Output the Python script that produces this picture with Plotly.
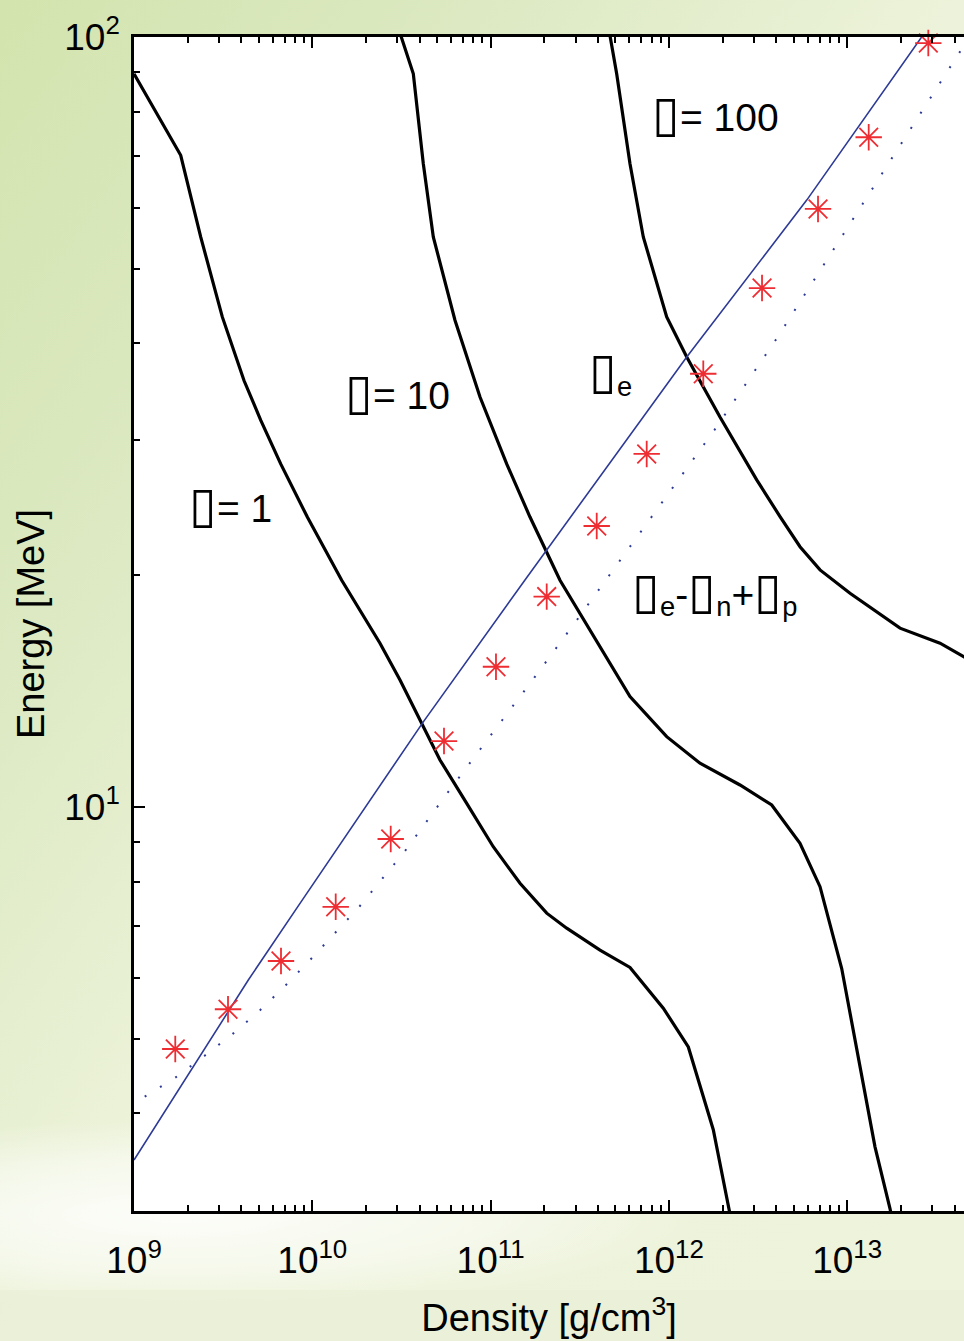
import base64
import plotly.graph_objects as go

# ---------------- data ----------------
gamma1_density = [1.00e9, 1.828e9, 2.366e9, 3.128e9, 4.14e9, 5.135e9, 6.65e9, 9.38e9,
                  1.462e10, 2.397e10, 3.104e10, 4.108e10, 5.202e10, 7.345e10, 1.035e11,
                  1.462e11, 2.064e11, 2.672e11, 4.108e11, 6.05e11, 9.30e11, 1.285e12,
                  1.774e12, 2.26e12]
gamma1_energy = [89.6, 70.2, 55.0, 43.3, 35.8, 31.8, 27.9, 23.8,
                 19.7, 16.32, 14.62, 12.84, 11.51, 10.11, 8.88,
                 7.96, 7.28, 6.96, 6.52, 6.19, 5.48, 4.88,
                 3.81, 2.87]

gamma10_density = [3.064e10, 3.686e10, 4.194e10, 4.771e10, 6.314e10, 8.722e10, 1.231e11,
                   1.663e11, 2.45e11, 3.172e11, 4.479e11, 6.05e11, 9.72e11, 1.494e12,
                   2.505e12, 3.773e12, 5.436e12, 7.04e12, 9.315e12, 1.18e13, 1.432e13,
                   1.738e13, 1.81e13]
gamma10_energy = [102.1, 89.6, 68.45, 55.0, 42.87, 34.07, 27.9,
                  23.8, 19.7, 17.85, 15.67, 13.91, 12.34, 11.40,
                  10.68, 10.06, 8.97, 7.88, 6.17, 4.60, 3.62,
                  3.01, 2.87]

gamma100_density = [4.614e11, 5.095e11, 6.05e11, 7.185e11, 9.72e11, 1.259e12, 1.934e12,
                    3.108e12, 4.2e12, 5.436e12, 7.04e12, 1.037e13, 1.978e13, 3.316e13,
                    4.52e13, 5.21e13]
gamma100_energy = [102.1, 89.6, 68.45, 55.0, 43.3, 38.4, 32.1,
                   26.6, 23.83, 21.78, 20.32, 18.95, 17.07, 16.32,
                   15.67, 15.38]

mue_density = [1.0e9, 4.377e9, 8.532e9, 4.194e10, 1.559e11, 1.259e12, 5.93e12, 2.618e13, 2.913e13]
mue_energy = [3.479, 5.962, 7.497, 12.90, 19.72, 38.4, 61.4, 100.1, 103.6]

mudiff_density = [1.148e9, 1.704e9, 2.479e9, 3.578e9, 5.089e9, 7.095e9, 9.795e9, 1.834e10,
                  3.311e10, 5.747e10, 1.001e11, 1.758e11, 3.052e11, 6.05e11, 1.041e12,
                  1.797e12, 3.937e12, 1.372e13, 4.236e13, 4.883e13]
mudiff_energy = [4.206, 4.451, 4.749, 5.074, 5.445, 5.869, 6.342, 7.421,
                 8.767, 10.44, 12.39, 14.72, 17.50, 21.78, 25.94,
                 30.85, 40.29, 63.43, 95.4, 100.3]

star_density = [1.704e9, 3.367e9, 6.675e9, 1.353e10, 2.753e10, 5.478e10, 1.072e11, 2.064e11,
                3.937e11, 7.507e11, 1.559e12, 3.329e12, 6.86e12, 1.32e13, 2.85e13]
star_energy = [4.85, 5.462, 6.31, 7.42, 9.087, 12.18, 15.21, 18.76,
               23.17, 28.74, 36.53, 47.2, 59.8, 74.1, 98.2]

x_tickvals = [1e9, 1e10, 1e11, 1e12, 1e13]
x_ticktext = ["10<sup>9</sup>", "10<sup>10</sup>", "10<sup>11</sup>", "10<sup>12</sup>", "10<sup>13</sup>"]
y_tickvals = [10, 100]
y_ticktext = ["10<sup>1</sup>", "10<sup>2</sup>"]

x_minor = [m * 10 ** e for e in range(9, 14) for m in range(2, 10)]
y_minor = [m * 10 ** e for e in range(0, 2) for m in range(2, 10) if m * 10 ** e > 3.1]

# ---------------- layout geometry ----------------
W, H = 964, 1341
ML, MR, MT, MB = 134, 0, 37, 130
PW, PH = W - ML - MR, H - MT - MB
X_RANGE = [9, 9 + PW / 178.3]
Y_RANGE = [2 - PH / 770.0, 2]

FONT = "Liberation Sans, Arial, Helvetica, sans-serif"

def px_x(px):
    return (px - ML) / PW

def px_y(py):
    return (H - MB - py) / PH

fig = go.Figure()

for d, e in [(gamma1_density, gamma1_energy), (gamma10_density, gamma10_energy),
             (gamma100_density, gamma100_energy)]:
    fig.add_trace(go.Scatter(x=d, y=e, mode="lines",
                             line=dict(color="black", width=3.2), showlegend=False))

fig.add_trace(go.Scatter(x=mue_density, y=mue_energy, mode="lines",
                         line=dict(color="#2d3a96", width=1.6), showlegend=False))
fig.add_trace(go.Scatter(x=mudiff_density, y=mudiff_energy, mode="lines",
                         line=dict(color="#2d3a96", width=2, dash="2px,16px"),
                         showlegend=False))
fig.add_trace(go.Scatter(x=star_density, y=star_energy, mode="markers",
                         marker=dict(symbol="asterisk-open", size=22, color="#ee2d33",
                                     line=dict(color="#ee2d33", width=1.8)),
                         cliponaxis=False, showlegend=False))

# ---------------- background (slide gradient) ----------------
svg = f"""<svg xmlns='http://www.w3.org/2000/svg' width='{W}' height='{H}' viewBox='0 0 {W} {H}' preserveAspectRatio='none'>
<defs>
<linearGradient id='g' x1='0' y1='0' x2='1' y2='1'>
<stop offset='0' stop-color='#d3e4ae'/>
<stop offset='0.25' stop-color='#dce9c2'/>
<stop offset='0.5' stop-color='#edf3da'/>
<stop offset='1' stop-color='#eef3dc'/>
</linearGradient>
<radialGradient id='w' cx='0.5' cy='0.5' r='0.5'>
<stop offset='0' stop-color='#ffffff' stop-opacity='0.85'/>
<stop offset='0.6' stop-color='#ffffff' stop-opacity='0.45'/>
<stop offset='1' stop-color='#ffffff' stop-opacity='0'/>
</radialGradient>
</defs>
<rect x='0' y='0' width='{W}' height='{H}' fill='url(#g)'/>
<ellipse cx='180' cy='1215' rx='520' ry='95' fill='url(#w)'/>
<rect x='0' y='1290' width='{W}' height='51' fill='#eaf0d7' opacity='0.7'/>
</svg>"""
src = "data:image/svg+xml;base64," + base64.b64encode(svg.encode()).decode()

fig.add_layout_image(dict(source=src, xref="paper", yref="paper",
                          x=-ML / PW, y=1 + MT / PH, sizex=W / PW, sizey=H / PH,
                          xanchor="left", yanchor="top", sizing="stretch", layer="below"))
# white plotting area on top of the slide background
fig.add_shape(type="rect", xref="paper", yref="paper", x0=0, x1=1, y0=0, y1=1,
              fillcolor="white", line=dict(width=0), layer="below")

# ---------------- annotations ----------------
ann_font = dict(family=FONT, size=39, color="black")
BOX = "<span style='font-size:50px'>▯</span>"
labels = [
    (BOX + "= 100", 650, 114),
    (BOX + "= 10", 343, 392),
    (BOX + "= 1", 187, 505),
    (BOX + "<sub>e</sub>", 587, 372),
    (BOX + "<sub>e</sub>-" + BOX + "<sub>n</sub>+" + BOX + "<sub>p</sub>", 630, 592),
]
for text, x, y in labels:
    fig.add_annotation(text=text, xref="paper", yref="paper", x=px_x(x), y=px_y(y),
                       xanchor="left", yanchor="middle", showarrow=False, font=ann_font)

axis_common = dict(
    type="log",
    showgrid=False, zeroline=False,
    showline=True, linecolor="black", linewidth=2.5,
    ticks="inside", ticklen=11, tickwidth=1.5, tickcolor="black",
    tickfont=dict(family=FONT, size=37, color="black"),
)

fig.update_xaxes(
    **axis_common, range=X_RANGE, mirror="ticks",
    tickmode="array", tickvals=x_tickvals, ticktext=x_ticktext,
    ticklabelstandoff=15,
    minor=dict(tickmode="array", tickvals=x_minor, ticks="inside", ticklen=6,
               tickwidth=1.5, tickcolor="black", showgrid=False),
    title=dict(text="Density [g/cm<sup>3</sup>]", font=dict(family=FONT, size=38, color="black"),
               standoff=25),
)
fig.update_yaxes(
    **axis_common, range=Y_RANGE, mirror=False,
    tickmode="array", tickvals=y_tickvals, ticktext=y_ticktext,
    ticklabelstandoff=4,
    minor=dict(tickmode="array", tickvals=y_minor, ticks="inside", ticklen=6,
               tickwidth=1.5, tickcolor="black", showgrid=False),
    title=dict(text="Energy [MeV]", font=dict(family=FONT, size=38, color="black"),
               standoff=8),
)

fig.update_layout(
    width=W, height=H,
    margin=dict(l=ML, r=MR, t=MT, b=MB, pad=0),
    paper_bgcolor="#e6efd0",
    plot_bgcolor="white",
    showlegend=False,
)

fig.write_html("out.html", config={"displayModeBar": False},
               post_script="document.body.style.margin='0';document.body.style.overflow='hidden';")
